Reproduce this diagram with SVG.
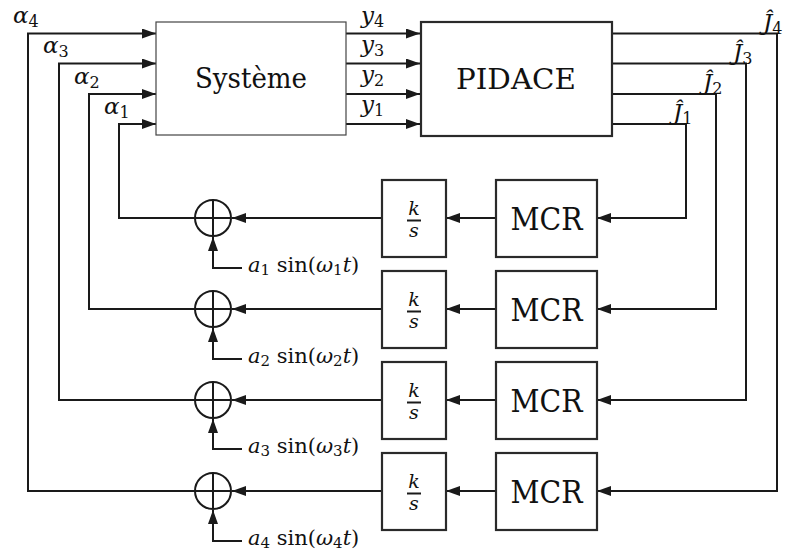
<svg xmlns="http://www.w3.org/2000/svg" width="787" height="557" viewBox="0 0 787 557">
<defs>
<marker id="arr" markerUnits="userSpaceOnUse" markerWidth="14" markerHeight="10" refX="14" refY="5" orient="auto">
<path d="M0,0 L14,5 L0,10 z" fill="#1a1a1a"/>
</marker>
</defs>
<style>
.ln{fill:none;stroke:#1a1a1a;stroke-width:2}
.ar{fill:none;stroke:#1a1a1a;stroke-width:2;marker-end:url(#arr)}
.box{fill:#fff;stroke:#2a2a2a;stroke-width:2.2}
.thin{fill:#fff;stroke:#444;stroke-width:1.2}
.sum{fill:#fff;stroke:#1a1a1a;stroke-width:2}
text{font-family:'DejaVu Serif','Liberation Serif',serif;fill:#111}
.m{font-style:italic}
.big{font-size:27px}
.mcr{font-size:31px}
.lab{font-size:23px}
.sub{font-size:16px;font-style:normal}
.frac{font-size:19px;font-style:italic}
.sin{font-size:21px}
.sins{font-size:15px}
</style>
<g id="connectors">
<path class="ar" d="M28,491 V33.5 H156"/>
<path class="ar" d="M59,400 V63.5 H156"/>
<path class="ar" d="M89,309 V94 H156"/>
<path class="ar" d="M119,218 V124 H156"/>
<path class="ar" d="M346,33.5 H420"/>
<path class="ar" d="M346,63.5 H420"/>
<path class="ar" d="M346,94 H420"/>
<path class="ar" d="M346,124 H420"/>
<path class="ar" d="M612,33.5 H777 V491 H597"/>
<path class="ar" d="M612,63.5 H746 V400 H597"/>
<path class="ar" d="M612,94 H716 V309 H597"/>
<path class="ar" d="M612,124 H686 V218 H597"/>
<path class="ar" d="M496,218 H446"/>
<path class="ar" d="M496,309 H446"/>
<path class="ar" d="M496,400 H446"/>
<path class="ar" d="M496,491 H446"/>
<path class="ar" d="M382,218 H232"/>
<path class="ar" d="M382,309 H232"/>
<path class="ar" d="M382,400 H232"/>
<path class="ar" d="M382,491 H232"/>
<path class="ln" d="M195,218 H118"/>
<path class="ln" d="M195,309 H88"/>
<path class="ln" d="M195,400 H58"/>
<path class="ln" d="M195,491 H27"/>
<path class="ar" d="M242,268 H213 V237"/>
<path class="ar" d="M242,359 H213 V328"/>
<path class="ar" d="M242,449 H213 V419"/>
<path class="ar" d="M242,541 H213 V510"/>
</g>
<g id="systeme">
<rect class="thin" x="156" y="22" width="190" height="113"/>
<text class="big" x="251" y="88" text-anchor="middle" textLength="112" lengthAdjust="spacingAndGlyphs">Système</text>
</g>
<g id="pidace">
<rect class="box" x="421" y="22" width="191" height="114"/>
<text class="big" x="516" y="89" text-anchor="middle" textLength="120" lengthAdjust="spacingAndGlyphs">PIDACE</text>
</g>
<g id="sum1"><circle class="sum" cx="213" cy="218" r="18"/><path class="ln" d="M195,218 H231 M213,200 V236"/></g>
<g id="sum2"><circle class="sum" cx="213" cy="309" r="18"/><path class="ln" d="M195,309 H231 M213,291 V327"/></g>
<g id="sum3"><circle class="sum" cx="213" cy="400" r="18"/><path class="ln" d="M195,400 H231 M213,382 V418"/></g>
<g id="sum4"><circle class="sum" cx="213" cy="491" r="18"/><path class="ln" d="M195,491 H231 M213,473 V509"/></g>
<g id="int1"><rect class="box" x="382" y="180" width="64" height="77"/><text class="frac" x="414" y="215" text-anchor="middle">k</text><path class="ln" d="M407,220.5 H421" stroke-width="1.2"/><text class="frac" x="414" y="237" text-anchor="middle">s</text></g>
<g id="int2"><rect class="box" x="382" y="271" width="64" height="77"/><text class="frac" x="414" y="306" text-anchor="middle">k</text><path class="ln" d="M407,311.5 H421" stroke-width="1.2"/><text class="frac" x="414" y="328" text-anchor="middle">s</text></g>
<g id="int3"><rect class="box" x="382" y="362" width="64" height="77"/><text class="frac" x="414" y="397" text-anchor="middle">k</text><path class="ln" d="M407,402.5 H421" stroke-width="1.2"/><text class="frac" x="414" y="419" text-anchor="middle">s</text></g>
<g id="int4"><rect class="box" x="382" y="453" width="64" height="77"/><text class="frac" x="414" y="488" text-anchor="middle">k</text><path class="ln" d="M407,493.5 H421" stroke-width="1.2"/><text class="frac" x="414" y="510" text-anchor="middle">s</text></g>
<g id="mcr1"><rect class="box" x="496" y="180" width="101" height="77"/><text class="mcr" x="546.5" y="230" text-anchor="middle" textLength="72" lengthAdjust="spacingAndGlyphs">MCR</text></g>
<g id="mcr2"><rect class="box" x="496" y="271" width="101" height="77"/><text class="mcr" x="546.5" y="321" text-anchor="middle" textLength="72" lengthAdjust="spacingAndGlyphs">MCR</text></g>
<g id="mcr3"><rect class="box" x="496" y="362" width="101" height="77"/><text class="mcr" x="546.5" y="412" text-anchor="middle" textLength="72" lengthAdjust="spacingAndGlyphs">MCR</text></g>
<g id="mcr4"><rect class="box" x="496" y="453" width="101" height="77"/><text class="mcr" x="546.5" y="503" text-anchor="middle" textLength="72" lengthAdjust="spacingAndGlyphs">MCR</text></g>
<g id="labels">
<text class="lab" x="13" y="23"><tspan class="m">α</tspan><tspan class="sub" dy="4">4</tspan></text>
<text class="lab" x="43" y="53"><tspan class="m">α</tspan><tspan class="sub" dy="4">3</tspan></text>
<text class="lab" x="74" y="84"><tspan class="m">α</tspan><tspan class="sub" dy="4">2</tspan></text>
<text class="lab" x="104" y="114"><tspan class="m">α</tspan><tspan class="sub" dy="4">1</tspan></text>
<text class="lab" x="361" y="23"><tspan class="m">y</tspan><tspan class="sub" dy="4">4</tspan></text>
<text class="lab" x="361" y="52"><tspan class="m">y</tspan><tspan class="sub" dy="4">3</tspan></text>
<text class="lab" x="361" y="82"><tspan class="m">y</tspan><tspan class="sub" dy="4">2</tspan></text>
<text class="lab" x="361" y="112"><tspan class="m">y</tspan><tspan class="sub" dy="4">1</tspan></text>
<text class="lab" x="763" y="30"><tspan class="m">Ĵ</tspan><tspan class="sub" dy="4">4</tspan></text>
<text class="lab" x="733" y="60"><tspan class="m">Ĵ</tspan><tspan class="sub" dy="4">3</tspan></text>
<text class="lab" x="703" y="90"><tspan class="m">Ĵ</tspan><tspan class="sub" dy="4">2</tspan></text>
<text class="lab" x="673" y="120"><tspan class="m">Ĵ</tspan><tspan class="sub" dy="4">1</tspan></text>
<text class="sin" x="248" y="272"><tspan class="m">a</tspan><tspan class="sins" dy="3">1</tspan><tspan dy="-3"> sin(</tspan><tspan class="m">ω</tspan><tspan class="sins" dy="3">1</tspan><tspan class="m" dy="-3">t</tspan>)</text>
<text class="sin" x="248" y="363"><tspan class="m">a</tspan><tspan class="sins" dy="3">2</tspan><tspan dy="-3"> sin(</tspan><tspan class="m">ω</tspan><tspan class="sins" dy="3">2</tspan><tspan class="m" dy="-3">t</tspan>)</text>
<text class="sin" x="248" y="453"><tspan class="m">a</tspan><tspan class="sins" dy="3">3</tspan><tspan dy="-3"> sin(</tspan><tspan class="m">ω</tspan><tspan class="sins" dy="3">3</tspan><tspan class="m" dy="-3">t</tspan>)</text>
<text class="sin" x="248" y="545"><tspan class="m">a</tspan><tspan class="sins" dy="3">4</tspan><tspan dy="-3"> sin(</tspan><tspan class="m">ω</tspan><tspan class="sins" dy="3">4</tspan><tspan class="m" dy="-3">t</tspan>)</text>
</g>
</svg>
